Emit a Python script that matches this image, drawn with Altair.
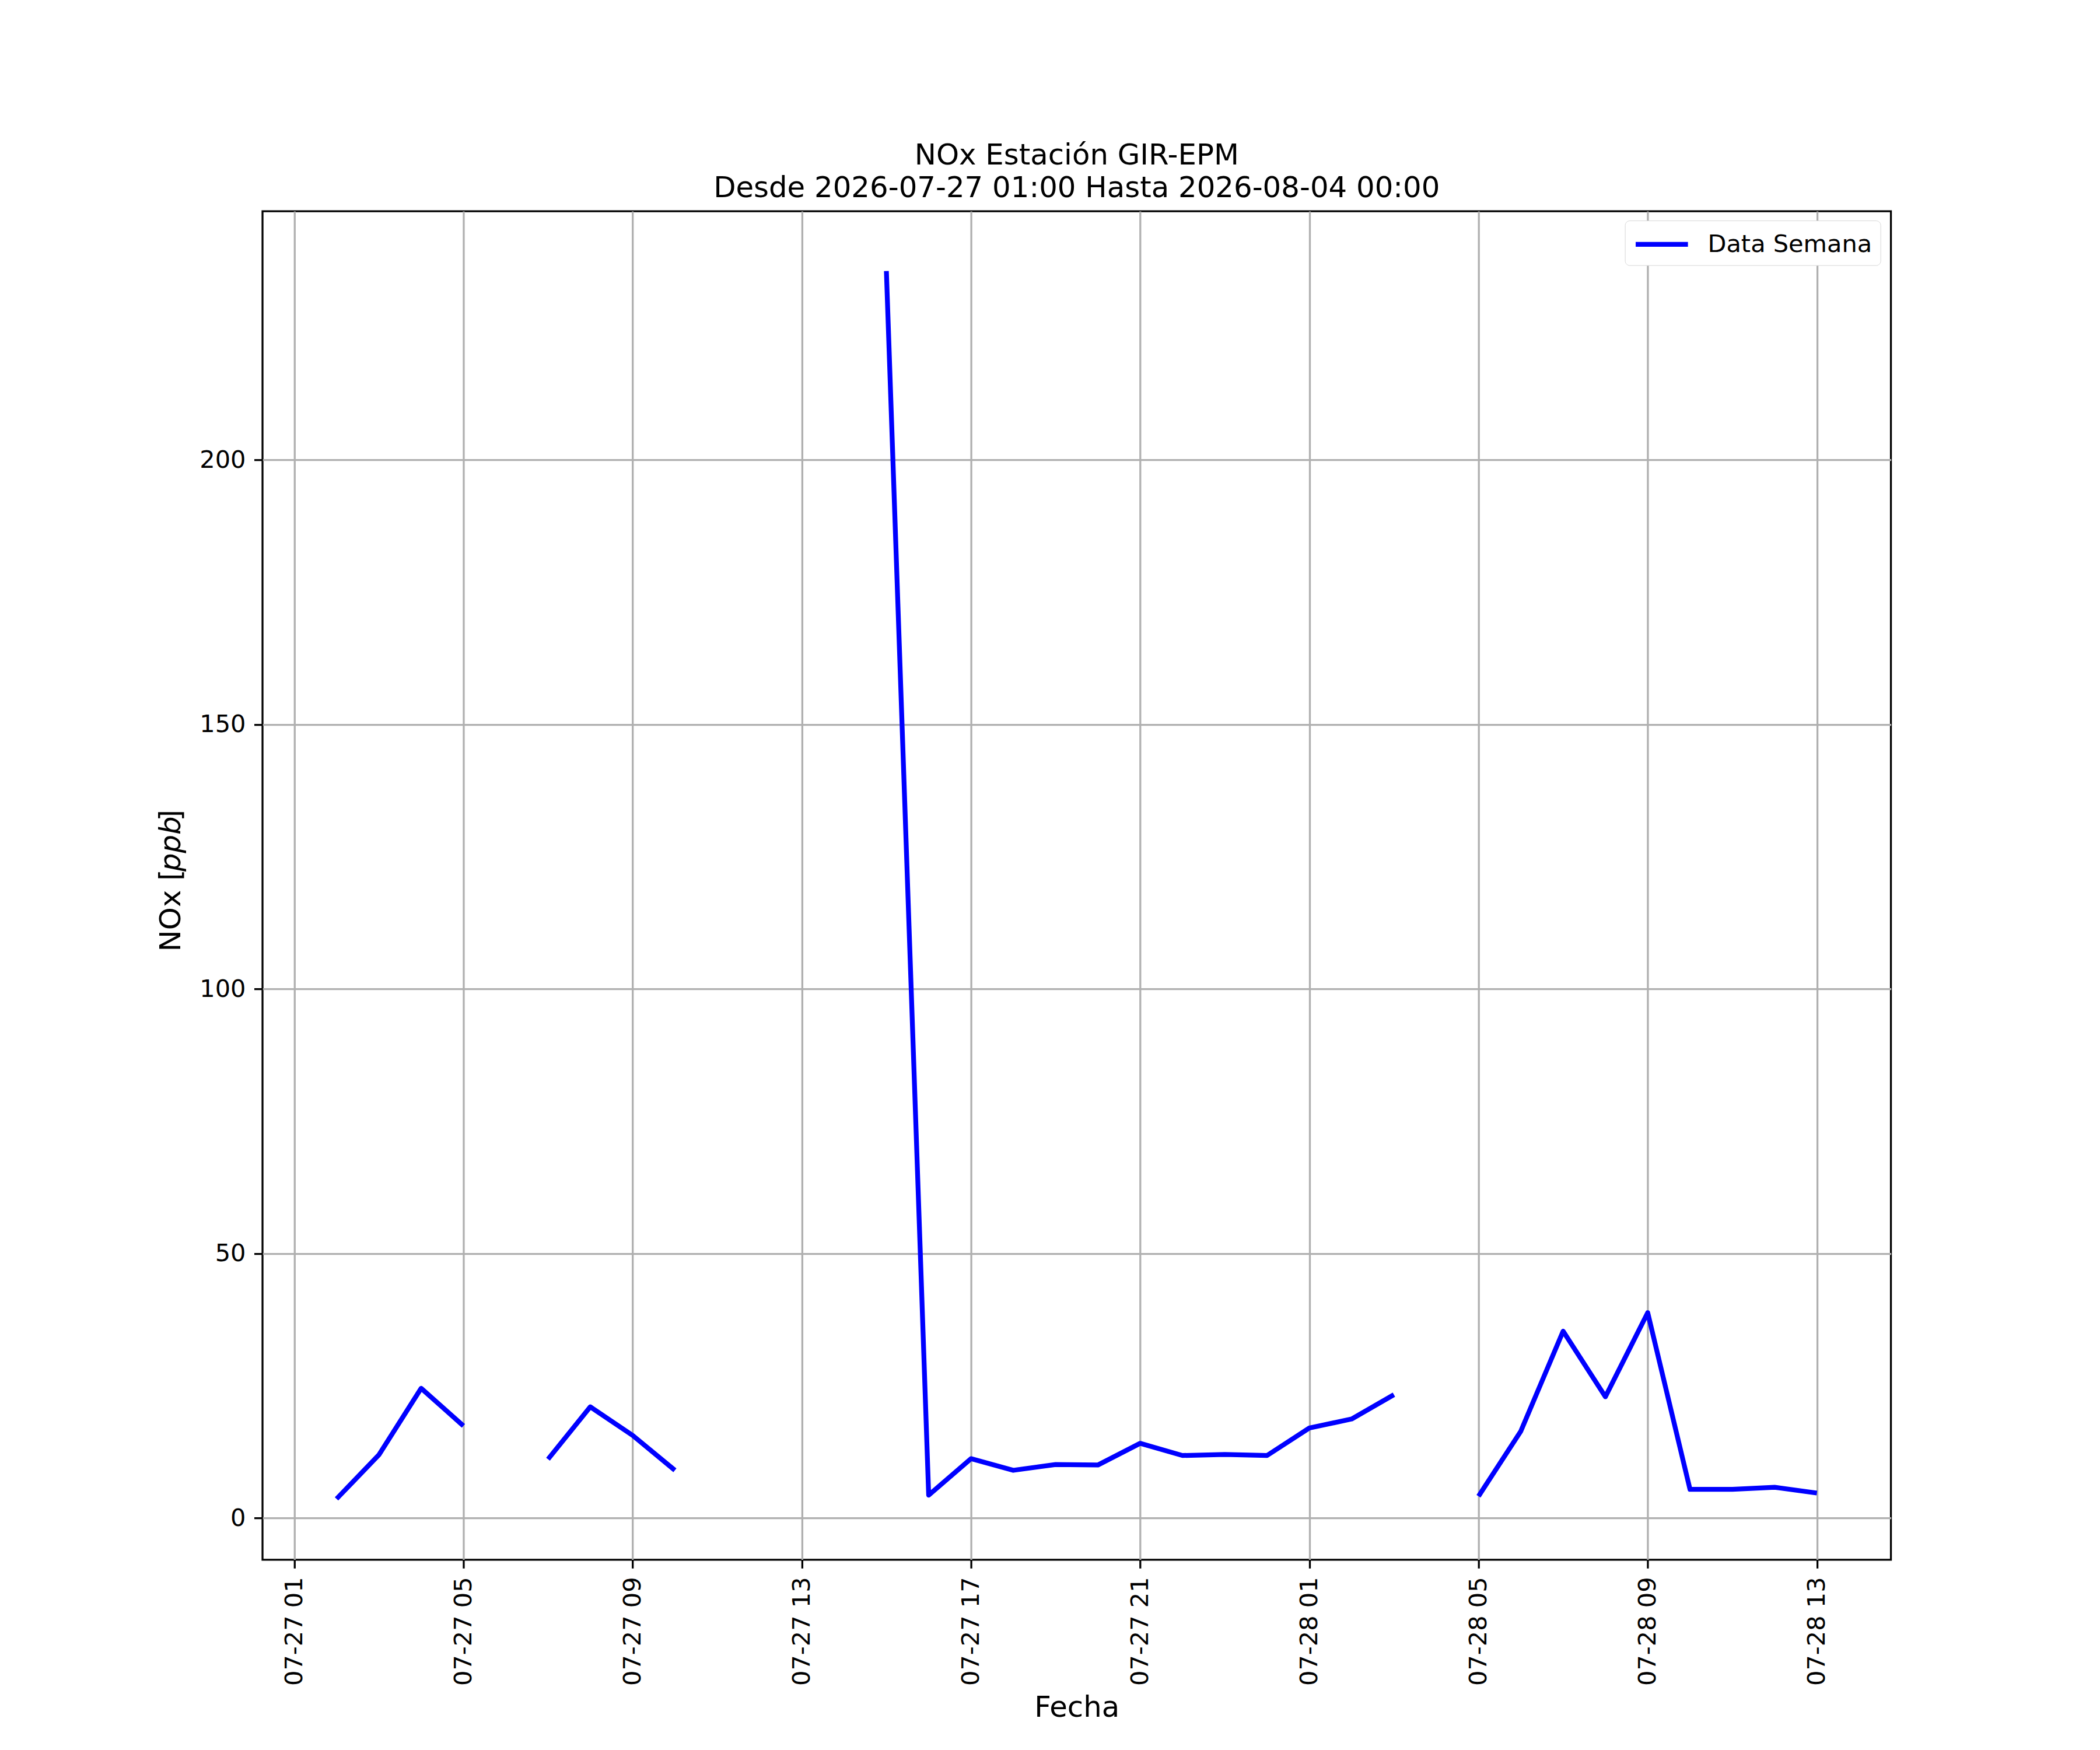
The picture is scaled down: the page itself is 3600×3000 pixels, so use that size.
import altair as alt
import pandas as pd

# ---- data ----
start = "2026-07-27T02:00:00"
n_hours = 36
valores = [
    3.6, 11.9, 24.5, 17.4, None, 11.1, 21.0, 15.6, 9.0,
    None, None, None, None,
    235.7, 4.3, 11.2, 9.0, 10.1, 10.0, 14.1, 11.8, 12.0, 11.8, 17.0, 18.7, 23.3,
    None,
    4.1, 16.4, 35.3, 22.9, 38.8, 5.4, 5.4, 5.8, 4.7,
]
serie = "Data Semana"
x_tick_hours = ["2026-07-27T01:00:00", "2026-07-27T05:00:00", "2026-07-27T09:00:00",
                "2026-07-27T13:00:00", "2026-07-27T17:00:00", "2026-07-27T21:00:00",
                "2026-07-28T01:00:00", "2026-07-28T05:00:00", "2026-07-28T09:00:00",
                "2026-07-28T13:00:00"]
y_ticks = [0, 50, 100, 150, 200]
titulo = ["NOx Estación GIR-EPM", "Desde 2026-07-27 01:00 Hasta 2026-08-04 00:00"]
y_title_parts = ["NOx [", "ppb", "]"]
x_title = "Fecha"

times = pd.date_range(start, periods=n_hours, freq="h")
seg_ids = []
seg = 0
prev_none = False
for v in valores:
    if v is None:
        prev_none = True
        seg_ids.append(None)
    else:
        if prev_none:
            seg += 1
        prev_none = False
        seg_ids.append(seg)

df = pd.DataFrame({
    "t": [t.strftime("%Y-%m-%dT%H:%M:%SZ") for t in times],
    "v": valores,
    "seg": seg_ids,
    "serie": serie,
})
df = df[df["v"].notna()]


def dt(s):
    ts = pd.Timestamp(s)
    return alt.DateTime(year=ts.year, month=ts.month, date=ts.day,
                        hours=ts.hour, minutes=ts.minute, utc=True)


FONT = "DejaVu Sans"
W, H = 2804, 2322

line = alt.Chart(df).mark_line(strokeWidth=8.3, strokeCap="butt", strokeJoin="round").encode(
    x=alt.X("t:T",
            scale=alt.Scale(type="utc",
                            domain=[dt("2026-07-27T00:15:00"), dt("2026-07-28T14:45:00")]),
            axis=alt.Axis(values=[dt(s) for s in x_tick_hours],
                          labelExpr="utcFormat(datum.value, '%m-%d %H')",
                          labelAngle=270, title=x_title,
                          titleX=W / 2, titleY=255, titleBaseline="middle",
                          titleAnchor="middle")),
    y=alt.Y("v:Q",
            scale=alt.Scale(domain=[-7.9, 247], nice=False, zero=False),
            axis=alt.Axis(values=y_ticks, title=None)),
    color=alt.Color("serie:N", scale=alt.Scale(range=["#0000ff"]),
                    legend=alt.Legend(title=None, orient="none",
                                      legendX=2346, legendY=16,
                                      symbolType="M-2,0H2", symbolSize=2025,
                                      symbolOffset=22.5,
                                      symbolStrokeWidth=8.3, symbolStrokeColor="#0000ff",
                                      symbolFillColor="transparent",
                                      labelFont=FONT, labelFontSize=41.7, labelColor="black",
                                      labelOffset=52, labelLimit=2000, padding=14,
                                      strokeColor="#d6d6d6", fillColor="white",
                                      cornerRadius=8)),
    detail="seg:N",
)

one = pd.DataFrame({"k": [0]})
ytitle_pos = [1275, 1137, 1050]
ytitle_style = ["normal", "italic", "normal"]
ytitle_layers = [
    alt.Chart(one).mark_text(text=txt, angle=270, align="left", baseline="middle",
                             font=FONT, fontSize=50, fontStyle=sty, color="black").encode(
        x=alt.value(-157), y=alt.value(yp))
    for txt, yp, sty in zip(y_title_parts, ytitle_pos, ytitle_style)
]

chart = alt.layer(line, *ytitle_layers).properties(
    width=W, height=H,
    background="white",
    title=alt.TitleParams(text=titulo,
                          font=FONT, fontSize=50, fontWeight="normal", color="black",
                          anchor="middle", frame="group", baseline="bottom",
                          lineHeight=56, offset=-36),
    autosize=alt.AutoSizeParams(type="none"),
    padding={"left": 444, "top": 349, "right": 352, "bottom": 329},
).configure_view(
    stroke="black", strokeWidth=3.3,
).configure_axis(
    grid=True, gridColor="#b0b0b0", gridWidth=3.3, gridOpacity=1,
    domain=False,
    ticks=True, tickColor="black", tickWidth=3.3, tickSize=14.6,
    labelPadding=14.6, labelFont=FONT, labelFontSize=41.7, labelColor="black",
    labelLimit=2000,
    titleFont=FONT, titleFontSize=50, titleFontWeight="normal", titleColor="black",
)

chart.save("out.html", embed_options={"renderer": "svg", "actions": False})
